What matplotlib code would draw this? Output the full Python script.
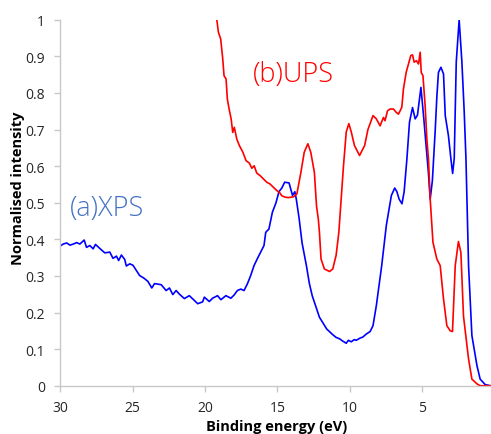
import matplotlib
matplotlib.use("Agg")
import matplotlib.pyplot as plt
from matplotlib.ticker import FormatStrFormatter, FixedLocator

# ---------------- data ----------------
xps_energy = [30.0, 29.95, 29.8, 29.56, 29.33, 29.1, 28.87, 28.65, 28.35, 28.19, 27.96, 27.73,
              27.57, 27.27, 26.93, 26.58, 26.36, 26.12, 25.97, 25.78, 25.55, 25.44, 25.2,
              24.98, 24.75, 24.52, 24.23, 23.95, 23.68, 23.49, 23.03, 22.69, 22.46, 22.23,
              22.0, 21.77, 21.43, 21.09, 20.74, 20.51, 20.17, 20.05, 19.71, 19.48, 19.14,
              18.91, 18.56, 18.22, 17.99, 17.77, 17.53, 17.31, 17.08, 16.85, 16.62, 16.39,
              16.16, 15.93, 15.81, 15.59, 15.35, 15.1, 14.9, 14.7, 14.5, 14.2, 13.96, 13.8,
              13.7, 13.5, 13.3, 13.0, 12.8, 12.6, 12.1, 11.6, 11.2, 10.95, 10.7, 10.5,
              10.25, 10.1, 9.9, 9.7, 9.56, 9.3, 9.1, 8.87, 8.6, 8.4, 8.17, 8.0, 7.8, 7.48,
              7.3, 7.13, 6.9, 6.75, 6.6, 6.4, 6.25, 6.06, 5.88, 5.67, 5.49, 5.33, 5.09,
              4.91, 4.75, 4.57, 4.45, 4.3, 4.1, 3.99, 3.88, 3.71, 3.53, 3.41, 3.19, 3.02,
              2.9, 2.79, 2.65, 2.45, 2.26, 2.1, 1.98, 1.8, 1.57, 1.22, 1.0, 0.65, 0.3]
xps_intensity = [0.383, 0.383, 0.387, 0.39, 0.384, 0.387, 0.391, 0.387, 0.398, 0.378, 0.383, 0.374,
                 0.386, 0.375, 0.363, 0.365, 0.348, 0.354, 0.342, 0.357, 0.345, 0.327, 0.333,
                 0.329, 0.315, 0.301, 0.294, 0.285, 0.267, 0.279, 0.276, 0.26, 0.267, 0.249,
                 0.26, 0.25, 0.238, 0.246, 0.233, 0.224, 0.229, 0.242, 0.23, 0.239, 0.246,
                 0.235, 0.246, 0.239, 0.248, 0.26, 0.264, 0.26, 0.278, 0.301, 0.328, 0.347,
                 0.365, 0.383, 0.419, 0.428, 0.474, 0.50, 0.53, 0.54, 0.556, 0.554, 0.52, 0.53,
                 0.51, 0.456, 0.39, 0.328, 0.28, 0.246, 0.187, 0.155, 0.14, 0.132, 0.128, 0.122,
                 0.116, 0.124, 0.12, 0.126, 0.124, 0.13, 0.133, 0.141, 0.148, 0.164, 0.219, 0.27,
                 0.328, 0.438, 0.48, 0.52, 0.54, 0.53, 0.51, 0.497, 0.53, 0.619, 0.72, 0.76,
                 0.729, 0.739, 0.815, 0.738, 0.665, 0.58, 0.51, 0.56, 0.70, 0.79, 0.856, 0.87,
                 0.852, 0.738, 0.683, 0.62, 0.58, 0.62, 0.884, 1.0, 0.884, 0.748, 0.62, 0.328,
                 0.137, 0.055, 0.018, 0.003, 0.0]

ups_energy = [19.19, 19.08, 18.92, 18.78, 18.69, 18.55, 18.46, 18.34, 18.2, 18.09, 17.98, 17.81,
              17.63, 17.39, 17.17, 16.94, 16.77, 16.61, 16.43, 16.2, 15.97, 15.74, 15.51,
              15.28, 15.04, 14.86, 14.7, 14.47, 14.24, 13.9, 13.66, 13.38, 13.15, 12.9, 12.7,
              12.45, 12.3, 12.18, 12.1, 11.99, 11.76, 11.4, 11.18, 10.95, 10.76, 10.6, 10.44,
              10.25, 10.07, 9.9, 9.68, 9.33, 8.98, 8.75, 8.4, 8.17, 7.91, 7.68, 7.57, 7.4,
              7.22, 6.99, 6.8, 6.64, 6.53, 6.41, 6.3, 6.11, 5.95, 5.79, 5.67, 5.56, 5.4,
              5.26, 5.14, 5.07, 4.95, 4.8, 4.68, 4.57, 4.45, 4.26, 3.99, 3.76, 3.53, 3.3,
              3.07, 2.91, 2.72, 2.5, 2.33, 2.15, 1.8, 1.57, 1.22, 1.0, 0.3]
ups_intensity = [1.0, 0.966, 0.947, 0.893, 0.847, 0.838, 0.783, 0.756, 0.729, 0.692, 0.706, 0.674,
                 0.656, 0.638, 0.615, 0.608, 0.594, 0.601, 0.581, 0.574, 0.565, 0.556, 0.551,
                 0.542, 0.533, 0.528, 0.519, 0.515, 0.514, 0.516, 0.524, 0.583, 0.638, 0.661,
                 0.638, 0.583, 0.49, 0.456, 0.419, 0.346, 0.319, 0.312, 0.319, 0.356, 0.419,
                 0.51, 0.60, 0.693, 0.716, 0.693, 0.656, 0.629, 0.656, 0.70, 0.738, 0.729, 0.71,
                 0.733, 0.724, 0.751, 0.756, 0.756, 0.747, 0.742, 0.751, 0.761, 0.81, 0.856,
                 0.879, 0.902, 0.904, 0.884, 0.888, 0.879, 0.911, 0.856, 0.847, 0.765, 0.674,
                 0.62, 0.51, 0.392, 0.346, 0.328, 0.237, 0.164, 0.15, 0.148, 0.328, 0.394,
                 0.364, 0.19, 0.073, 0.018, 0.005, 0.0, 0.0]

x_ticks = [30, 25, 20, 15, 10, 5]
y_ticks = [0, 0.1, 0.2, 0.3, 0.4, 0.5, 0.6, 0.7, 0.8, 0.9, 1.0]

# ---------------- figure ----------------
plt.rcParams['font.family'] = ['Open Sans', 'DejaVu Sans']
W, H = 491, 435
fig = plt.figure(figsize=(W / 100, H / 100), dpi=100)
ax = fig.add_axes([60.3 / W, 1 - 386.7 / H, (W - 60.3) / W, (386.7 - 20.7) / H])

ax.plot(xps_energy, xps_intensity, color='#0000FF', lw=1.2)
ax.plot(ups_energy, ups_intensity, color='#FF0000', lw=1.2)

ax.set_xlim(30, 0.25)
ax.set_ylim(0, 1)
ax.xaxis.set_major_locator(FixedLocator(x_ticks))
ax.yaxis.set_major_locator(FixedLocator(y_ticks))
ax.yaxis.set_major_formatter(FormatStrFormatter('%g'))
ax.xaxis.set_major_formatter(FormatStrFormatter('%g'))

for s in ['top', 'right']:
    ax.spines[s].set_visible(False)
for s in ['left', 'bottom']:
    ax.spines[s].set_color('#C8C8C8')
    ax.spines[s].set_linewidth(1.0)
ax.tick_params(axis='both', direction='out', length=4, width=1, color='#C8C8C8',
               labelsize=10, labelcolor='#262626')
ax.tick_params(axis='y', pad=7)
ax.tick_params(axis='x', pad=6)
ax.patch.set_alpha(0)

fig.text(70 / W, 1 - 216 / H, '(a)XPS', color='#4472C4', fontsize=19.5,
         fontweight='light', ha='left', va='baseline')
fig.text(253 / W, 1 - 81.7 / H, '(b)UPS', color='#FF0000', fontsize=19.5,
         fontweight='light', ha='left', va='baseline')

fig.text(277 / W, 1 - 431 / H, 'Binding energy (eV)', fontsize=10.5, fontweight='bold',
         ha='center', va='baseline', color='#000000')
fig.text(18 / W, 1 - 188 / H, 'Normalised intensity', fontsize=10.5, fontweight='bold',
         ha='center', va='center', rotation=90, color='#000000')

fig.savefig('out.png', dpi=100)
